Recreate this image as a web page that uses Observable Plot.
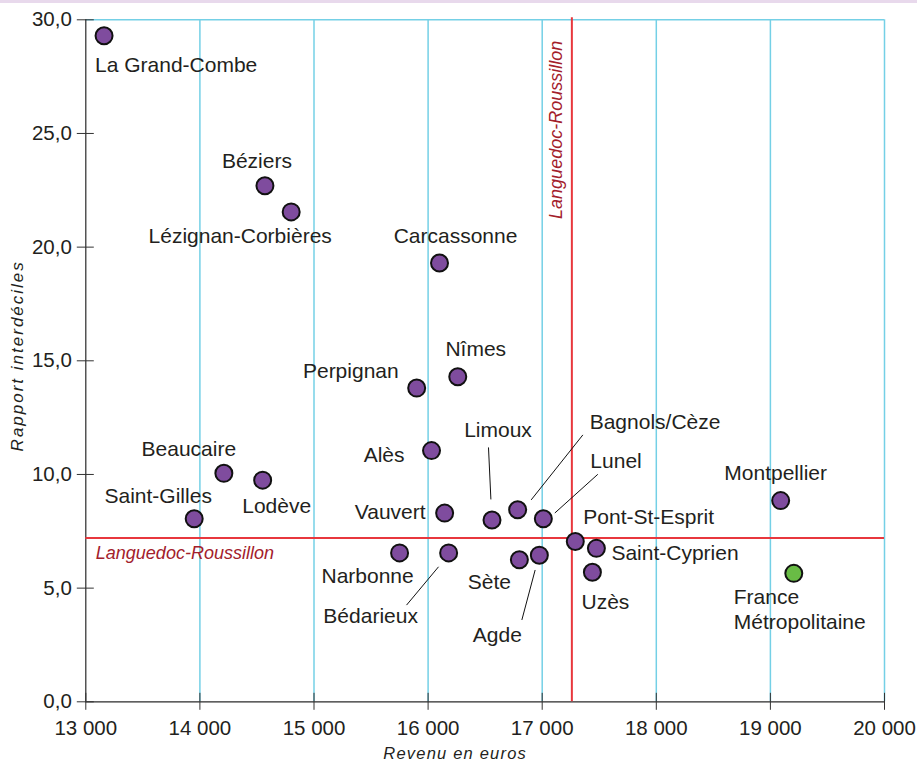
<!DOCTYPE html>
<html>
<head>
<meta charset="utf-8">
<script src="https://cdn.jsdelivr.net/npm/d3@7"></script>
<script src="https://cdn.jsdelivr.net/npm/@observablehq/plot@0.6"></script>
<style>
  html, body { margin: 0; padding: 0; background: #fff; }
  #band { height: 3px; background: #e8d9ec; width: 917px; }
  #chart svg { display: block; }
</style>
</head>
<body>
<div id="band"></div>
<div id="chart"></div>
<script>
// ---- Data ----
const cities = ["La Grand-Combe", "Béziers", "Lézignan-Corbières", "Carcassonne", "Perpignan", "Nîmes",
  "Alès", "Vauvert", "Limoux", "Bagnols/Cèze", "Lunel", "Narbonne", "Bédarieux", "Sète", "Agde",
  "Pont-St-Esprit", "Saint-Cyprien", "Uzès", "Montpellier", "Beaucaire", "Lodève", "Saint-Gilles"];
const revenu = [13160, 14570, 14800, 16100, 15900, 16260,
  16030, 16145, 16560, 16785, 17010, 15750, 16180, 16800, 16975,
  17290, 17475, 17440, 19090, 14210, 14550, 13950];
const rapport = [29.3, 22.7, 21.55, 19.3, 13.8, 14.3,
  11.05, 8.3, 8.0, 8.45, 8.05, 6.55, 6.55, 6.25, 6.45,
  7.05, 6.75, 5.7, 8.85, 10.05, 9.75, 8.05];

const franceName = "France\nMétropolitaine";
const franceRevenu = 19205;
const franceRapport = 5.65;

const regionName = "Languedoc-Roussillon";
const regionRevenu = 17260;
const regionRapport = 7.2;

const xTicks = [13000, 14000, 15000, 16000, 17000, 18000, 19000, 20000];
const yTicks = [0, 5, 10, 15, 20, 25, 30];
const xTitle = "Revenu en euros";
const yTitle = "Rapport interdéciles";

// ---- Label layout (pixel offsets from each dot) ----
const labelLayout = {
  "La Grand-Combe": [-9, 30, "start"],
  "Béziers": [-8, -24, "middle"],
  "Lézignan-Corbières": [-51, 24, "middle"],
  "Carcassonne": [16, -27, "middle"],
  "Perpignan": [-18, -17, "end"],
  "Nîmes": [18, -27, "middle"],
  "Alès": [-27, 5, "end"],
  "Vauvert": [-19, -1, "end"],
  "Limoux": [6, -90, "middle"],
  "Bagnols/Cèze": [72, -87, "start"],
  "Lunel": [47, -58, "start"],
  "Narbonne": [-32, 23, "middle"],
  "Bédarieux": [-78, 63, "middle"],
  "Sète": [-30, 23, "middle"],
  "Agde": [-42, 80, "middle"],
  "Pont-St-Esprit": [8, -24, "start"],
  "Saint-Cyprien": [15, 5, "start"],
  "Uzès": [13, 30, "middle"],
  "Montpellier": [-5, -27, "middle"],
  "Beaucaire": [-35, -24, "middle"],
  "Lodève": [14, 26, "middle"],
  "Saint-Gilles": [-36, -23, "middle"]
};
const leaders = {
  "Limoux": [-3, -72, -0.6, -20],
  "Bagnols/Cèze": [65.7, -74.3, 14, -9.3],
  "Lunel": [55, -44, 12, -5.3],
  "Bédarieux": [-9.6, 14.4, -41.6, 52.7],
  "Agde": [-3.7, 15.3, -17, 65.3]
};

const points = cities.map((name, i) => ({name, x: revenu[i], y: rapport[i]}));
const france = [{name: franceName, x: franceRevenu, y: franceRapport}];

const W = 917, H = 759;
const mL = 85.3, mR = 33, mT = 16.3, mB = 60.7;
const innerW = W - mL - mR, innerH = H - mT - mB;

const font = "'Liberation Sans', Arial, Helvetica, sans-serif";
const textColor = "#231f20";
const cyan = "#74d0e6";
const red = "#e8373d";
const darkRed = "#a3202b";
const purple = "#7f4c9e";
const green = "#69bc45";

const fmtX = d => `${Math.floor(d / 1000)} 000`;
const fmtY = d => d.toFixed(1).replace(".", ",");

const labelMarks = points.map(p => {
  const [dx, dy, anchor] = labelLayout[p.name];
  return Plot.text([p], {x: "x", y: "y", text: "name", dx, dy, textAnchor: anchor,
    lineAnchor: "middle", fontSize: 21, fill: textColor});
});

const plot = Plot.plot({
  width: W, height: H,
  marginLeft: mL, marginRight: mR, marginTop: mT, marginBottom: mB,
  style: {fontFamily: font, fontSize: "20.5px", color: textColor, background: "white", overflow: "visible"},
  x: {domain: [13000, 20000], ticks: xTicks, tickFormat: fmtX, tickSize: 0, tickPadding: 19, label: null},
  y: {domain: [0, 30], ticks: yTicks, tickFormat: fmtY, tickSize: 0, tickPadding: 14, label: null},
  marks: [
    // grid
    Plot.ruleX(xTicks.slice(1), {stroke: cyan, strokeWidth: 1.5}),
    Plot.ruleY([30], {stroke: cyan, strokeWidth: 1.5}),
    // axes lines
    Plot.ruleY([0], {stroke: "#2a2a2a", strokeWidth: 1.2}),
    Plot.ruleX([13000], {stroke: "#2a2a2a", strokeWidth: 1.2}),
    // crossing ticks
    Plot.ruleX(xTicks, {stroke: "#333", strokeWidth: 1, insetTop: innerH - 8.5, insetBottom: -8.5}),
    Plot.ruleY(yTicks, {stroke: "#333", strokeWidth: 1, insetLeft: -8.5, insetRight: innerW - 8.5}),
    // regional averages
    Plot.ruleX([regionRevenu], {stroke: red, strokeWidth: 2, insetTop: -2}),
    Plot.ruleY([regionRapport], {stroke: red, strokeWidth: 2}),
    Plot.text([regionName], {x: regionRevenu, frameAnchor: "top", rotate: -90, textAnchor: "end",
      lineAnchor: "middle", dx: -16, dy: 21, fontSize: 18, fontStyle: "italic", fill: darkRed}),
    Plot.text([regionName], {y: regionRapport, frameAnchor: "left", textAnchor: "start",
      lineAnchor: "middle", dx: 10, dy: 15, fontSize: 18, fontStyle: "italic", fill: darkRed}),
    // axis titles
    Plot.text([xTitle], {frameAnchor: "bottom", textAnchor: "middle", lineAnchor: "bottom", dx: -30, dy: 57.5,
      fontSize: 16.5, fontStyle: "italic", fill: textColor}),
    Plot.text([yTitle], {frameAnchor: "left", textAnchor: "middle", rotate: -90, lineAnchor: "middle", dx: -68, dy: -5,
      fontSize: 17, fontStyle: "italic", fill: textColor}),
    // dots
    Plot.dot(points, {x: "x", y: "y", r: 8.5, fill: purple, stroke: "#111", strokeWidth: 2}),
    Plot.dot(france, {x: "x", y: "y", r: 8.5, fill: green, stroke: "#111", strokeWidth: 2}),
    ...labelMarks,
    Plot.text(france, {x: "x", y: "y", text: "name", dx: -60, dy: 35, textAnchor: "start",
      lineAnchor: "middle", lineHeight: 1.19, fontSize: 21, fill: textColor})
  ]
});

// letter spacing on axis titles (wide tracking in the reference)
d3.select(plot).selectAll("text").filter(function() { return this.textContent === xTitle; })
  .attr("letter-spacing", "1.2px");
d3.select(plot).selectAll("text").filter(function() { return this.textContent === yTitle; })
  .attr("letter-spacing", "2px");

// leader lines, anchored to the dots through the plot's own scales
const sx = plot.scale("x"), sy = plot.scale("y");
const g = d3.select(plot).append("g").attr("aria-label", "leaders");
points.forEach(p => {
  const L = leaders[p.name];
  if (!L) return;
  const px = sx.apply(p.x), py = sy.apply(p.y);
  g.append("line")
    .attr("x1", px + L[0]).attr("y1", py + L[1])
    .attr("x2", px + L[2]).attr("y2", py + L[3])
    .attr("stroke", "#111").attr("stroke-width", 1);
});

document.getElementById("chart").appendChild(plot);
</script>
</body>
</html>
